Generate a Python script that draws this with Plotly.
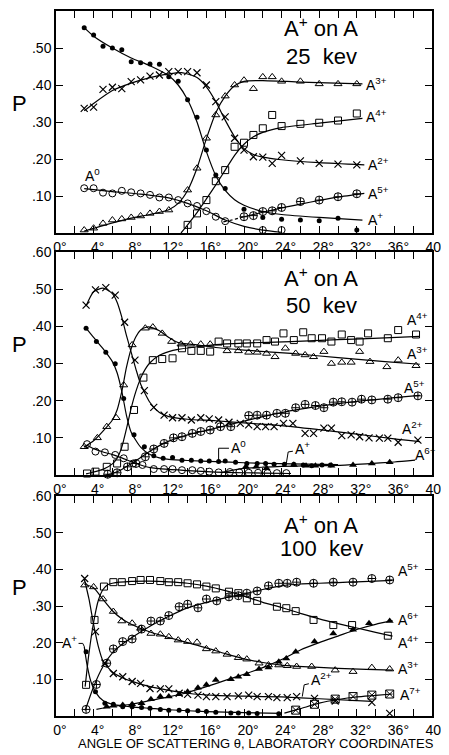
import plotly.graph_objects as go

# ---------------- Panel 1 : A+ on A, 25 keV ----------------
p1_ap_x = [3, 4, 5, 6, 7, 8, 9, 10, 11, 12, 13, 14, 15, 16, 17, 18, 20, 22, 24, 26, 28, 30, 32]
p1_ap_y = [0.555, 0.535, 0.505, 0.50, 0.495, 0.463, 0.46, 0.457, 0.456, 0.422, 0.41, 0.36, 0.313, 0.224, 0.157, 0.12, 0.064, 0.042, 0.037, 0.035, 0.033, 0.04, 0.008]
p1_ap_fx = [3, 4, 6, 8, 10, 12, 13, 14, 15, 16, 17, 18, 19, 20, 22, 24, 28, 32.6]
p1_ap_fy = [0.555, 0.532, 0.50, 0.473, 0.452, 0.425, 0.40, 0.36, 0.30, 0.22, 0.155, 0.115, 0.09, 0.075, 0.058, 0.05, 0.042, 0.035]

p1_a2_x = [3, 4, 5, 6, 7, 8, 9, 10, 11, 12, 13, 14, 15, 16, 17, 18, 19, 20, 21, 22, 23, 24, 26, 28, 30, 32]
p1_a2_y = [0.337, 0.34, 0.388, 0.394, 0.39, 0.409, 0.414, 0.424, 0.427, 0.436, 0.436, 0.436, 0.433, 0.40, 0.355, 0.314, 0.256, 0.224, 0.206, 0.205, 0.188, 0.21, 0.195, 0.188, 0.186, 0.184]
p1_a2_fx = [3, 4, 6, 8, 10, 12, 13.5, 15, 16, 17, 18, 19, 20, 21, 22, 24, 28, 32.8]
p1_a2_fy = [0.33, 0.35, 0.385, 0.405, 0.42, 0.43, 0.433, 0.42, 0.395, 0.355, 0.305, 0.26, 0.228, 0.212, 0.205, 0.198, 0.19, 0.184]

p1_a3_x = [3, 4, 5, 6, 7, 8, 9, 10, 11, 12, 14, 15, 16, 17, 18, 19, 20, 21, 22, 23, 24, 26, 28, 30, 32]
p1_a3_y = [0.008, 0.013, 0.026, 0.035, 0.038, 0.042, 0.046, 0.053, 0.058, 0.062, 0.116, 0.175, 0.256, 0.319, 0.37, 0.40, 0.413, 0.39, 0.422, 0.422, 0.41, 0.41, 0.403, 0.403, 0.403]
p1_a3_fx = [3, 5, 8, 10, 12, 13, 14, 15, 16, 17, 18, 19, 20, 22, 26, 32.6]
p1_a3_fy = [0.005, 0.02, 0.04, 0.05, 0.063, 0.08, 0.115, 0.175, 0.255, 0.325, 0.37, 0.398, 0.41, 0.412, 0.408, 0.403]

p1_a4_x = [14, 15, 16, 17, 18, 19, 20, 21, 22, 23, 24, 26, 28, 30, 32]
p1_a4_y = [0.022, 0.053, 0.089, 0.14, 0.17, 0.233, 0.244, 0.265, 0.283, 0.319, 0.289, 0.295, 0.298, 0.304, 0.323]
p1_a4_fx = [13.3, 14, 15, 16, 17, 18, 19, 20, 21, 22, 24, 28, 32.6]
p1_a4_fy = [0.0, 0.022, 0.055, 0.092, 0.13, 0.17, 0.21, 0.24, 0.26, 0.272, 0.285, 0.297, 0.31]

p1_a5_x = [20, 21, 22, 23, 24, 26, 28, 30, 32]
p1_a5_y = [0.044, 0.047, 0.058, 0.06, 0.069, 0.085, 0.089, 0.098, 0.106]
p1_a5_fx = [20, 22, 24, 26, 28, 30, 32.8]
p1_a5_fy = [0.044, 0.056, 0.068, 0.078, 0.088, 0.097, 0.107]
p1_a5_dx = [17.8, 19, 20]
p1_a5_dy = [0.03, 0.037, 0.044]

p1_a0_x = [3, 4, 5, 6, 7, 8, 9, 10, 11, 12, 13, 14, 15, 16, 17, 18, 22, 24]
p1_a0_y = [0.121, 0.121, 0.109, 0.107, 0.114, 0.11, 0.107, 0.103, 0.096, 0.096, 0.089, 0.08, 0.073, 0.059, 0.044, 0.032, 0.008, 0.008]
p1_a0_fx = [3, 6, 9, 12, 14, 16, 18, 20, 22, 24]
p1_a0_fy = [0.12, 0.112, 0.105, 0.095, 0.08, 0.06, 0.035, 0.018, 0.008, 0.002]

# ---------------- Panel 2 : A+ on A, 50 keV ----------------
p2_a2_x = [3.2, 4.2, 5.3, 6.3, 7.3, 8.4, 9.4, 10.4, 11.5, 12.4, 13.4, 14.4, 15.4, 16.3, 17.3, 18.4, 19.6, 20.5, 21.4, 22.3, 23.2, 24.2, 25.2, 26.5, 27.4, 28.5, 29.3, 30.4, 31.4, 32.3, 33.3, 34.4, 35.3, 36.4, 38.5]
p2_a2_y = [0.457, 0.498, 0.504, 0.484, 0.411, 0.309, 0.227, 0.182, 0.161, 0.154, 0.154, 0.148, 0.154, 0.151, 0.148, 0.142, 0.139, 0.135, 0.13, 0.13, 0.13, 0.139, 0.139, 0.112, 0.112, 0.126, 0.126, 0.106, 0.108, 0.103, 0.10, 0.099, 0.099, 0.088, 0.094]
p2_a2_fx = [3.2, 4, 5, 6, 6.5, 7, 7.5, 8, 8.5, 9, 10, 11, 12, 14, 17, 20, 24, 28, 32, 36, 38.7]
p2_a2_fy = [0.455, 0.493, 0.503, 0.488, 0.465, 0.425, 0.375, 0.33, 0.285, 0.245, 0.195, 0.168, 0.157, 0.15, 0.146, 0.14, 0.133, 0.122, 0.11, 0.097, 0.09]

p2_ap_x = [3.2, 4.3, 5.3, 6.3, 7.2, 8.3, 9.4, 10.4, 11.4, 12.4, 13.4, 14.4, 15.4, 16.3, 17.3, 18.0, 19.1, 20.3, 21.4, 22.3, 23.2, 24.3, 25.3, 26.3, 27.2, 28.3, 29.2]
p2_ap_y = [0.395, 0.359, 0.33, 0.299, 0.206, 0.108, 0.076, 0.052, 0.045, 0.047, 0.04, 0.04, 0.038, 0.038, 0.036, 0.038, 0.034, 0.031, 0.031, 0.031, 0.029, 0.029, 0.029, 0.027, 0.025, 0.027, 0.027]
p2_ap_fx = [3.2, 4, 5, 6, 6.5, 7, 7.5, 8, 9, 10, 11, 12, 14, 17, 20, 25, 30]
p2_ap_fy = [0.395, 0.37, 0.34, 0.305, 0.275, 0.225, 0.16, 0.115, 0.075, 0.055, 0.046, 0.042, 0.039, 0.036, 0.033, 0.03, 0.028]

p2_a3_x = [3.0, 4.4, 5.4, 6.4, 7.2, 8.1, 9.5, 10.3, 11.3, 12.3, 13.3, 14.3, 15.4, 16.4, 18.2, 19.4, 20.5, 21.4, 22.4, 23.3, 24.4, 25.5, 26.5, 27.4, 28.5, 29.3, 30.4, 31.4, 32.3, 33.4, 35.2, 36.4, 38.3]
p2_a3_y = [0.076, 0.10, 0.13, 0.154, 0.242, 0.35, 0.395, 0.398, 0.381, 0.359, 0.352, 0.352, 0.352, 0.352, 0.334, 0.334, 0.33, 0.33, 0.327, 0.318, 0.341, 0.327, 0.323, 0.318, 0.332, 0.30, 0.303, 0.303, 0.332, 0.305, 0.291, 0.309, 0.294]
p2_a3_fx = [3, 4, 5, 6, 6.5, 7, 7.5, 8, 8.5, 9, 9.5, 10, 11, 12, 13, 15, 17, 20, 25, 30, 35, 38.7]
p2_a3_fy = [0.075, 0.092, 0.118, 0.148, 0.175, 0.225, 0.29, 0.34, 0.372, 0.39, 0.397, 0.398, 0.388, 0.37, 0.356, 0.35, 0.343, 0.336, 0.327, 0.316, 0.305, 0.298]

p2_a4_x = [3.3, 4.2, 5.4, 6.5, 7.3, 8.3, 9.3, 10.3, 11.3, 12.4, 13.4, 14.4, 15.4, 16.4, 17.3, 18.2, 19.4, 20.3, 21.4, 22.4, 23.3, 24.2, 25.3, 26.3, 27.2, 28.3, 29.3, 30.4, 31.4, 32.3, 33.2, 35.3, 36.4, 38.3]
p2_a4_y = [0.004, 0.009, 0.022, 0.031, 0.076, 0.175, 0.262, 0.309, 0.312, 0.314, 0.341, 0.334, 0.334, 0.332, 0.359, 0.354, 0.354, 0.354, 0.354, 0.363, 0.359, 0.381, 0.363, 0.384, 0.368, 0.368, 0.359, 0.378, 0.363, 0.359, 0.381, 0.368, 0.39, 0.378]
p2_a4_fx = [3.2, 4, 5, 6, 6.5, 7, 7.5, 8, 8.5, 9, 9.5, 10, 11, 12, 13, 15, 17, 20, 25, 30, 35, 38.7]
p2_a4_fy = [0.003, 0.008, 0.015, 0.03, 0.045, 0.075, 0.125, 0.18, 0.225, 0.26, 0.285, 0.302, 0.322, 0.332, 0.338, 0.345, 0.351, 0.355, 0.359, 0.364, 0.369, 0.373]

p2_a5_x = [5.5, 6.5, 7.6, 8.5, 9.5, 10.4, 11.5, 12.5, 13.4, 14.5, 15.4, 16.4, 17.5, 18.6, 20.5, 21.4, 22.4, 23.5, 24.4, 25.5, 26.5, 27.6, 28.5, 29.5, 30.4, 31.5, 32.5, 33.6, 35.3, 36.4, 38.5]
p2_a5_y = [0.002, 0.006, 0.022, 0.031, 0.049, 0.07, 0.085, 0.10, 0.103, 0.112, 0.117, 0.121, 0.13, 0.13, 0.16, 0.161, 0.161, 0.166, 0.166, 0.181, 0.19, 0.187, 0.181, 0.196, 0.197, 0.196, 0.204, 0.202, 0.204, 0.208, 0.213]
p2_a5_fx = [5.3, 6, 7, 8, 9, 10, 11, 12, 14, 16, 18, 20, 22, 24, 26, 28, 30, 32, 34, 36, 38.7]
p2_a5_fy = [0.0, 0.004, 0.015, 0.03, 0.047, 0.064, 0.079, 0.091, 0.108, 0.12, 0.132, 0.145, 0.157, 0.168, 0.177, 0.185, 0.192, 0.198, 0.203, 0.208, 0.214]

p2_a0_x = [3.3, 4.2, 5.2, 6.3, 7.2, 8.2, 9.2, 10.4, 11.5, 12.4, 13.4, 14.5, 15.4, 16.3, 17.3, 18.5, 19.5, 20.5, 21.5, 22.5, 23.5, 24.5]
p2_a0_y = [0.083, 0.063, 0.061, 0.054, 0.045, 0.031, 0.027, 0.016, 0.016, 0.016, 0.013, 0.013, 0.011, 0.009, 0.007, 0.008, 0.007, 0.006, 0.006, 0.005, 0.005, 0.005]
p2_a0_fx = [3.3, 4, 5, 6, 7, 8, 9, 10, 12, 14, 16, 18, 20, 22, 25]
p2_a0_fy = [0.08, 0.071, 0.062, 0.055, 0.046, 0.036, 0.027, 0.02, 0.015, 0.012, 0.009, 0.007, 0.006, 0.005, 0.004]

p2_a6_x = [20.2, 21.3, 22.4, 25.3, 26.6, 27.6, 29.3, 31.6, 33.6, 35.5]
p2_a6_y = [0.022, 0.022, 0.018, 0.027, 0.025, 0.025, 0.025, 0.027, 0.031, 0.034]
p2_a6_fx = [17.5, 19, 20, 22, 24, 27, 30, 33, 36, 38.2]
p2_a6_fy = [0.006, 0.014, 0.018, 0.021, 0.023, 0.025, 0.026, 0.03, 0.035, 0.04]

# ---------------- Panel 3 : A+ on A, 100 keV ----------------
p3_ap_x = [3.2, 4.2, 5.2, 6.1, 7.1, 8.1, 9.1, 10.0, 11.1, 12.0, 13.1, 14.0, 15.1, 16.0, 17.0, 18.6, 19.4, 20.5, 21.4, 23.7]
p3_ap_y = [0.175, 0.066, 0.035, 0.032, 0.025, 0.025, 0.023, 0.021, 0.018, 0.016, 0.016, 0.014, 0.014, 0.012, 0.01, 0.008, 0.008, 0.008, 0.007, 0.006]
p3_ap_fx = [3.0, 3.3, 3.7, 4.2, 5, 6, 8, 10, 12, 16, 20, 24]
p3_ap_fy = [0.19, 0.14, 0.095, 0.065, 0.042, 0.032, 0.025, 0.021, 0.017, 0.012, 0.009, 0.007]

p3_a2_x = [3.05, 4.2, 5.2, 6.1, 7.1, 8.1, 9.0, 10.0, 11.1, 12.0, 13.1, 14.0, 15.1, 16.0, 17.0, 18.2, 19.4, 20.5, 21.4, 22.6, 23.5, 24.6, 25.6, 27.5, 29.7, 33.6, 35.5]
p3_a2_y = [0.375, 0.23, 0.144, 0.116, 0.107, 0.094, 0.089, 0.075, 0.074, 0.074, 0.062, 0.059, 0.057, 0.053, 0.053, 0.053, 0.055, 0.057, 0.053, 0.053, 0.05, 0.05, 0.053, 0.048, 0.041, 0.037, 0.007]
p3_a2_fx = [3.0, 3.5, 4, 4.5, 5, 6, 7, 8, 10, 12, 14, 17, 20, 24, 28, 33.6]
p3_a2_fy = [0.375, 0.32, 0.25, 0.19, 0.15, 0.12, 0.105, 0.095, 0.08, 0.07, 0.062, 0.056, 0.054, 0.052, 0.047, 0.04]

p3_a3_x = [3.05, 4.0, 5.0, 6.1, 7.0, 8.1, 9.0, 10.1, 11.1, 12.0, 13.0, 14.0, 15.0, 16.0, 17.0, 18.2, 19.4, 20.3, 21.6, 22.6, 23.7, 24.6, 25.6, 27.2, 29.7, 31.6, 33.6, 35.5]
p3_a3_y = [0.357, 0.352, 0.319, 0.285, 0.259, 0.253, 0.239, 0.225, 0.223, 0.216, 0.207, 0.203, 0.201, 0.183, 0.177, 0.168, 0.159, 0.155, 0.144, 0.139, 0.139, 0.137, 0.135, 0.135, 0.125, 0.121, 0.132, 0.128]
p3_a3_fx = [3.0, 4, 5, 6, 7, 8, 10, 12, 14, 16, 18, 20, 22, 24, 27, 30, 33, 35.8]
p3_a3_fy = [0.36, 0.35, 0.318, 0.287, 0.265, 0.25, 0.229, 0.214, 0.2, 0.186, 0.17, 0.156, 0.146, 0.139, 0.134, 0.13, 0.127, 0.125]

p3_a4_x = [3.2, 4.1, 5.1, 6.1, 7.0, 8.1, 9.0, 10.0, 11.1, 12.0, 13.0, 14.0, 15.0, 16.0, 17.0, 18.4, 19.4, 20.3, 21.4, 23.5, 24.5, 25.5, 27.4, 29.5, 31.5, 35.3]
p3_a4_y = [0.085, 0.262, 0.353, 0.365, 0.365, 0.368, 0.371, 0.371, 0.368, 0.365, 0.365, 0.362, 0.359, 0.353, 0.348, 0.339, 0.335, 0.321, 0.314, 0.298, 0.294, 0.286, 0.262, 0.248, 0.248, 0.219]
p3_a4_fx = [3.1, 3.5, 4, 4.5, 5, 5.5, 6, 8, 10, 12, 14, 16, 18, 20, 22, 24, 26, 28, 30, 32, 34, 35.8]
p3_a4_fy = [0.08, 0.17, 0.255, 0.315, 0.345, 0.358, 0.362, 0.367, 0.368, 0.366, 0.362, 0.354, 0.342, 0.327, 0.31, 0.296, 0.28, 0.265, 0.252, 0.24, 0.228, 0.218]

p3_a5_x = [3.2, 4.3, 5.4, 6.1, 7.1, 8.1, 9.1, 10.1, 11.1, 12.0, 13.1, 14.0, 15.1, 16.0, 17.1, 18.4, 19.4, 20.3, 21.4, 22.6, 23.7, 24.6, 25.6, 27.4, 29.5, 31.6, 33.6, 35.5]
p3_a5_y = [0.018, 0.086, 0.144, 0.183, 0.203, 0.21, 0.237, 0.259, 0.259, 0.274, 0.298, 0.305, 0.295, 0.319, 0.314, 0.325, 0.328, 0.335, 0.341, 0.355, 0.362, 0.362, 0.365, 0.362, 0.365, 0.365, 0.375, 0.371]
p3_a5_fx = [3.1, 4, 5, 6, 7, 8, 10, 12, 14, 16, 18, 20, 22, 24, 26, 28, 30, 32, 35.8]
p3_a5_fy = [0.015, 0.08, 0.135, 0.172, 0.195, 0.213, 0.245, 0.272, 0.295, 0.31, 0.322, 0.333, 0.345, 0.355, 0.36, 0.362, 0.364, 0.366, 0.37]

p3_a6_x = [5.4, 6.1, 7.1, 8.1, 9.1, 10.1, 11.1, 12.0, 13.1, 14.0, 15.1, 16.0, 17.0, 18.6, 19.4, 20.3, 21.6, 22.6, 23.7, 24.5, 25.5, 27.5, 29.5, 31.6, 33.3, 35.5]
p3_a6_y = [0.025, 0.028, 0.03, 0.032, 0.035, 0.046, 0.053, 0.053, 0.059, 0.066, 0.077, 0.085, 0.098, 0.10, 0.107, 0.114, 0.128, 0.132, 0.148, 0.157, 0.175, 0.203, 0.225, 0.235, 0.253, 0.259]
p3_a6_fx = [4.3, 6, 8, 10, 12, 14, 16, 18, 20, 22, 24, 26, 28, 30, 32, 34, 35.8]
p3_a6_fy = [0.018, 0.026, 0.032, 0.042, 0.052, 0.064, 0.08, 0.097, 0.114, 0.132, 0.154, 0.18, 0.2, 0.218, 0.236, 0.25, 0.26]

p3_a7_x = [25.5, 27.5, 29.7, 31.6, 33.6, 35.5]
p3_a7_y = [0.016, 0.032, 0.046, 0.053, 0.057, 0.06]
p3_a7_fx = [24.3, 26, 28, 30, 32, 34, 35.8]
p3_a7_fy = [0.008, 0.02, 0.035, 0.045, 0.052, 0.056, 0.06]

# ---------------- axes ticks ----------------
x_tickvals = list(range(0, 41, 4))
x_ticktext = [f"{v}°" for v in x_tickvals]
y_tickvals = [0.1, 0.2, 0.3, 0.4, 0.5, 0.6]
y_ticktext = [".10", ".20", ".30", ".40", ".50", ".60"]

FONT = "Liberation Sans"
BLACK = "black"

sym = {
    "ap": dict(symbol="circle", size=5, color=BLACK),
    "a0": dict(symbol="circle-open", size=7, color=BLACK, line=dict(width=1, color=BLACK)),
    "a2": dict(symbol="x-thin-open", size=7, color=BLACK, line=dict(width=1.2, color=BLACK)),
    "a3": dict(symbol="triangle-up-open", size=7, color=BLACK, line=dict(width=1, color=BLACK)),
    "a4": dict(symbol="square-open", size=7, color=BLACK, line=dict(width=1, color=BLACK)),
    "a5": dict(symbol="circle-cross-open", size=8, color=BLACK, line=dict(width=1, color=BLACK)),
    "a6": dict(symbol="triangle-up", size=7, color=BLACK),
    "a7": dict(symbol="square-x-open", size=8, color=BLACK, line=dict(width=1, color=BLACK)),
}

fig = go.Figure()


def add(ax, key, x, y, fx, fy, dash="solid"):
    xa = "x" if ax == 1 else f"x{ax}"
    ya = "y" if ax == 1 else f"y{ax}"
    fig.add_trace(go.Scatter(x=fx, y=fy, mode="lines", xaxis=xa, yaxis=ya,
                             line=dict(color=BLACK, width=1.2, shape="spline", smoothing=0.6, dash=dash),
                             hoverinfo="skip", showlegend=False))
    if x is not None:
        fig.add_trace(go.Scatter(x=x, y=y, mode="markers", xaxis=xa, yaxis=ya,
                                 marker=sym[key], cliponaxis=False, showlegend=False))


# panel 1
add(1, "ap", p1_ap_x, p1_ap_y, p1_ap_fx, p1_ap_fy)
add(1, "a2", p1_a2_x, p1_a2_y, p1_a2_fx, p1_a2_fy)
add(1, "a3", p1_a3_x, p1_a3_y, p1_a3_fx, p1_a3_fy)
add(1, "a4", p1_a4_x, p1_a4_y, p1_a4_fx, p1_a4_fy)
add(1, "a5", p1_a5_x, p1_a5_y, p1_a5_fx, p1_a5_fy)
add(1, "a5", None, None, p1_a5_dx, p1_a5_dy, dash="dot")
add(1, "a0", p1_a0_x, p1_a0_y, p1_a0_fx, p1_a0_fy)
# panel 2
add(2, "ap", p2_ap_x, p2_ap_y, p2_ap_fx, p2_ap_fy)
add(2, "a2", p2_a2_x, p2_a2_y, p2_a2_fx, p2_a2_fy)
add(2, "a3", p2_a3_x, p2_a3_y, p2_a3_fx, p2_a3_fy)
add(2, "a4", p2_a4_x, p2_a4_y, p2_a4_fx, p2_a4_fy)
add(2, "a5", p2_a5_x, p2_a5_y, p2_a5_fx, p2_a5_fy)
add(2, "a0", p2_a0_x, p2_a0_y, p2_a0_fx, p2_a0_fy)
add(2, "a6", p2_a6_x, p2_a6_y, p2_a6_fx, p2_a6_fy)
# panel 3
add(3, "ap", p3_ap_x, p3_ap_y, p3_ap_fx, p3_ap_fy)
add(3, "a2", p3_a2_x, p3_a2_y, p3_a2_fx, p3_a2_fy)
add(3, "a3", p3_a3_x, p3_a3_y, p3_a3_fx, p3_a3_fy)
add(3, "a4", p3_a4_x, p3_a4_y, p3_a4_fx, p3_a4_fy)
add(3, "a5", p3_a5_x, p3_a5_y, p3_a5_fx, p3_a5_fy)
add(3, "a6", p3_a6_x, p3_a6_y, p3_a6_fx, p3_a6_fy)
add(3, "a7", p3_a7_x, p3_a7_y, p3_a7_fx, p3_a7_fy)

# leader lines for labels (label anchor -> curve)
leaders = [
    (2, [17.3, 17.3, 18.4], [0.036, 0.072, 0.072]),
    (2, [24.5, 24.7, 25.2], [0.031, 0.062, 0.064]),
    (3, [26.2, 26.4, 26.9], [0.053, 0.085, 0.088]),
    (3, [2.4, 2.85, 3.0], [0.198, 0.198, 0.19]),
]
for ax, lx, ly in leaders:
    xa = "x" if ax == 1 else f"x{ax}"
    ya = "y" if ax == 1 else f"y{ax}"
    fig.add_trace(go.Scatter(x=lx, y=ly, mode="lines", xaxis=xa, yaxis=ya,
                             line=dict(color=BLACK, width=1), hoverinfo="skip", showlegend=False))

# page body has an 8px margin: the figure is drawn 8px right/down of the window corner
OFF = 8
W, H = 449 - OFF, 755 - OFF
xdom = [(56 - OFF) / W, (432 - OFF) / W]
panel_px = [(11, 233), (252, 475), (496, 716)]
ydoms = [[1 - (b - OFF) / H, 1 - (t - OFF) / H] for t, b in panel_px]

axis_common = dict(showline=True, linecolor=BLACK, linewidth=1.5, mirror="allticks",
                   ticks="inside", ticklen=7, tickwidth=1.2, tickcolor=BLACK,
                   showgrid=False, zeroline=False, automargin=False,
                   tickfont=dict(family=FONT, size=14, color=BLACK))

layout = dict(width=W, height=H, margin=dict(l=0, r=0, t=0, b=0),
              paper_bgcolor="white", plot_bgcolor="white", showlegend=False)
for i in range(3):
    sx = "" if i == 0 else str(i + 1)
    layout[f"xaxis{sx}"] = dict(axis_common, domain=xdom, range=[0, 40], anchor=f"y{sx}",
                                tickmode="array", tickvals=x_tickvals, ticktext=x_ticktext,
                                ticklabelshift=4,
                                minor=dict(dtick=2, ticks="inside", ticklen=7, tickwidth=1.2,
                                           tickcolor=BLACK, showgrid=False))
    layout[f"yaxis{sx}"] = dict(axis_common, domain=ydoms[i], range=[0, 0.6], anchor=f"x{sx}",
                                tickmode="array", tickvals=y_tickvals, ticktext=y_ticktext)
fig.update_layout(**layout)

# text labels
lab_font = dict(family=FONT, size=14, color=BLACK)
labels = [
    (1, 3.9, 0.157, "A<sup>0</sup>", "center"),
    (1, 32.8, 0.403, "A<sup>3+</sup>", "left"),
    (1, 32.8, 0.316, "A<sup>4+</sup>", "left"),
    (1, 33.0, 0.186, "A<sup>2+</sup>", "left"),
    (1, 33.0, 0.107, "A<sup>5+</sup>", "left"),
    (1, 33.0, 0.038, "A<sup>+</sup>", "left"),
    (2, 37.1, 0.421, "A<sup>4+</sup>", "left"),
    (2, 37.1, 0.327, "A<sup>3+</sup>", "left"),
    (2, 36.8, 0.238, "A<sup>5+</sup>", "left"),
    (2, 36.6, 0.126, "A<sup>2+</sup>", "left"),
    (2, 38.0, 0.056, "A<sup>6+</sup>", "left"),
    (2, 18.4, 0.076, "A<sup>0</sup>", "left"),
    (2, 25.2, 0.072, "A<sup>+</sup>", "left"),
    (3, 36.2, 0.398, "A<sup>5+</sup>", "left"),
    (3, 36.2, 0.265, "A<sup>6+</sup>", "left"),
    (3, 36.2, 0.203, "A<sup>4+</sup>", "left"),
    (3, 36.2, 0.130, "A<sup>3+</sup>", "left"),
    (3, 36.4, 0.059, "A<sup>7+</sup>", "left"),
    (3, 26.9, 0.100, "A<sup>2+</sup>", "left"),
    (3, 2.4, 0.203, "A<sup>+</sup>", "right"),
]
ann = []
for ax, x, y, t, anc in labels:
    sx = "" if ax == 1 else str(ax)
    ann.append(dict(x=x, y=y, xref=f"x{sx}", yref=f"y{sx}", text=t, showarrow=False,
                    xanchor=anc, yanchor="middle", font=lab_font))

titles = [(1, "25  kev"), (2, "50  kev"), (3, "100  kev")]
title_y = {1: (0.558, 0.477), 2: (0.534, 0.457), 3: (0.525, 0.457)}
for ax, kev in titles:
    sx = "" if ax == 1 else str(ax)
    y1, y2 = title_y[ax]
    ann.append(dict(x=28.2, y=y1, xref=f"x{sx}", yref=f"y{sx}", text="A<sup>+</sup> on A",
                    showarrow=False, xanchor="center", yanchor="middle",
                    font=dict(family=FONT, size=22, color=BLACK)))
    ann.append(dict(x=28.2, y=y2, xref=f"x{sx}", yref=f"y{sx}", text=kev,
                    showarrow=False, xanchor="center", yanchor="middle",
                    font=dict(family=FONT, size=22, color=BLACK)))
    ann.append(dict(x=(19 - OFF) / W, y=0.35, xref="paper", yref=f"y{sx}", text="P",
                    showarrow=False, xanchor="center", yanchor="middle",
                    font=dict(family=FONT, size=22, color=BLACK)))

ann.append(dict(x=(256 - OFF) / W, y=1 - (743 - OFF) / H, xref="paper", yref="paper",
                text="ANGLE OF SCATTERING θ, LABORATORY COORDINATES", showarrow=False,
                xanchor="center", yanchor="middle", font=dict(family=FONT, size=13, color=BLACK)))
fig.update_layout(annotations=ann)

fig.write_html("out.html")
